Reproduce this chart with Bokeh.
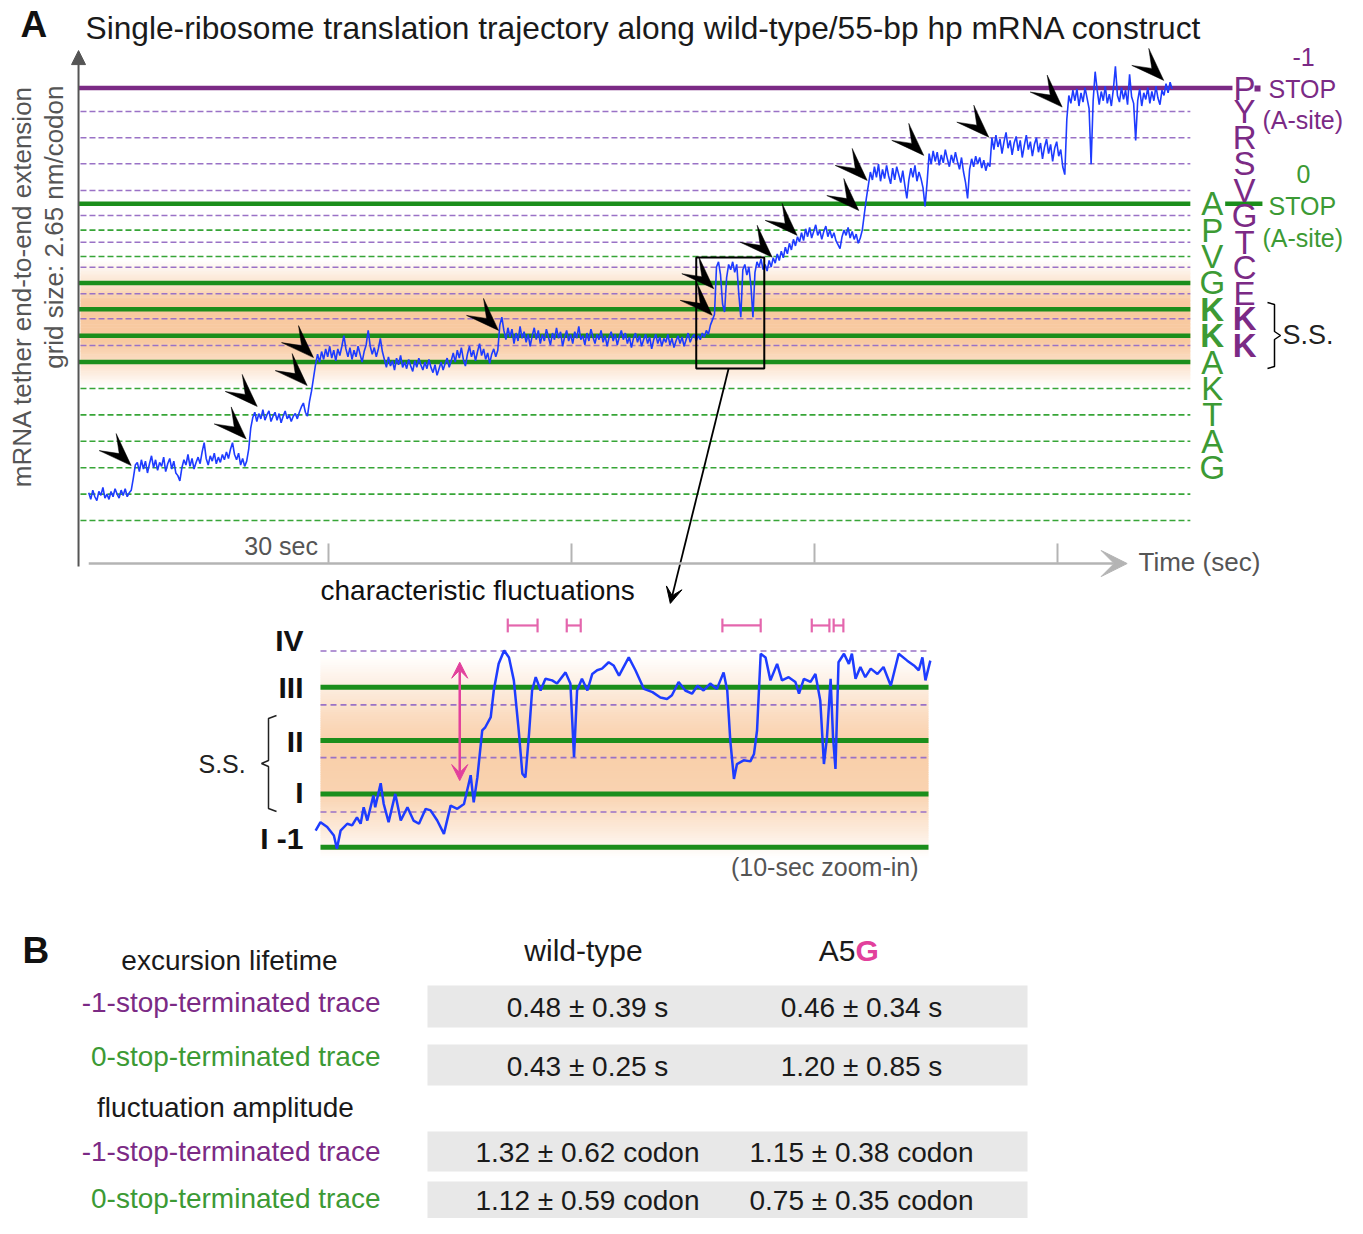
import numpy as np
from bokeh.plotting import figure
from bokeh.models import Range1d, Arrow, VeeHead, NormalHead
from bokeh.core.properties import value
from bokeh.embed import file_html
from bokeh.resources import INLINE

FONT = value("Liberation Sans")

# ---------------- Panel A data ----------------
# extension in codons (0-frame grid lines at integer codons), sampled every 0.25 s from t = 0.4 s
plateau_1 = [1.05, 0.80, 1.15, 0.90, 0.75, 1.10, 0.95, 1.25, 0.85, 1.00,
             0.80, 1.10, 0.90, 1.20, 1.00, 0.85, 1.15, 0.95, 1.20, 0.90,
             1.05, 1.15]
step_1 = [1.60, 2.10]
plateau_2 = [2.20, 1.85, 2.30, 1.95, 2.25, 1.80, 2.15, 2.45, 2.00, 2.30,
             1.90, 2.20, 2.05, 2.40, 1.85, 2.15, 2.35, 1.95, 2.25, 1.80,
             1.70, 1.50, 2.00, 2.30, 2.10, 2.50, 2.05, 2.35, 1.95, 2.20,
             2.40, 2.15, 2.60, 2.95, 2.35, 2.10, 2.45, 2.25, 2.55, 2.15,
             2.40, 2.20, 2.50, 2.30, 2.60, 2.35, 2.70, 2.95, 2.50, 2.30,
             2.55, 2.10, 2.35, 2.05, 2.25]
step_2 = [2.70, 3.50, 3.90]
plateau_3 = [4.10, 3.75, 4.05, 3.85, 4.20, 3.80, 4.00, 4.15, 3.75, 3.95,
             4.10, 3.80, 4.05, 3.70, 3.95, 4.15, 3.85, 4.00, 3.75, 3.95,
             4.05, 3.85, 4.10, 4.30, 4.45, 4.10, 3.95]
step_3 = [4.50, 4.90, 5.40, 5.90, 6.30]
plateau_4 = [6.00, 6.40, 6.10, 6.50, 6.20, 6.60, 6.15, 6.45, 6.05, 6.50,
             6.25, 6.60, 7.00, 6.50, 6.20, 6.55, 6.10, 6.45, 6.20, 6.60,
             6.30, 6.00, 6.40, 6.65, 7.20, 6.60, 6.30, 6.55, 6.20, 6.50,
             6.90, 6.40,
             6.10, 5.80, 6.20, 5.85, 6.05, 5.70, 6.15, 5.90, 6.25, 5.80,
             6.00, 5.75, 6.10, 5.85, 5.65, 6.05, 5.80, 6.15, 5.90, 5.70,
             6.00, 5.75, 6.10, 5.80, 5.60, 5.90, 5.50, 5.75, 6.00, 5.70,
             5.95, 6.15, 5.80, 6.05,
             6.35, 6.00, 6.45, 6.15, 6.55, 6.10, 5.85, 6.30, 6.60, 6.20,
             6.45, 6.05, 6.40, 6.70, 6.25, 6.50, 6.10, 6.35, 5.95, 6.30,
             6.50, 6.20, 6.45]
step_4 = [7.40, 7.70]
plateau_5 = [7.20, 6.85, 7.30, 6.95, 7.25, 6.70, 7.10, 6.80, 7.35, 6.90,
             7.15, 6.75, 7.05, 6.60, 7.00, 7.30, 6.85, 7.20, 6.70, 7.05,
             6.80, 7.25, 6.95, 6.65, 7.10, 6.85, 7.30, 6.90, 7.15, 6.60,
             6.95, 7.20, 6.80, 7.05, 6.70, 7.15, 6.90, 7.35, 6.85, 7.00,
             6.65, 7.10, 6.80, 7.25, 6.95, 6.70, 7.05, 6.85, 7.20, 6.75,
             7.00, 6.60, 6.95, 7.15, 6.80, 7.05, 6.65, 6.95, 7.20, 6.85,
             7.10, 6.70, 6.95, 6.55, 6.90, 7.10, 6.75, 7.00, 6.60, 6.85,
             7.05, 6.70, 6.95, 6.50, 6.85, 7.05, 6.70, 6.95, 6.60, 6.90,
             6.75, 7.05, 6.65, 6.90, 6.55, 6.80, 7.00, 6.70, 6.95, 6.60,
             6.85, 7.10, 6.75, 6.95, 7.05, 6.80, 7.00, 6.85, 7.10, 6.95,
             7.20, 7.05, 7.40, 7.60]
fluctuations = [7.80, 9.60, 9.80, 9.30, 8.20, 7.90, 9.20, 9.70, 9.50, 9.80,
                9.40, 9.70, 8.60, 7.70, 9.50, 9.70, 9.30, 9.60, 8.90, 7.70,
                9.40, 9.80, 9.60, 9.90, 9.50]
rise_6 = [9.70, 9.45, 9.85, 9.60, 9.95, 9.75, 10.10, 9.85, 10.20, 9.95,
          10.35, 10.10, 10.50, 10.25, 10.65, 10.40, 10.75, 10.55]
plateau_7 = [10.90, 10.60, 11.05, 10.75, 11.10, 10.70, 10.95, 11.20, 10.80, 11.00,
             10.65, 10.95, 11.15, 10.75, 11.00, 10.70, 10.90, 10.60, 10.45, 10.30,
             10.75, 11.00, 10.80, 11.10, 10.70, 10.95, 10.65, 10.85, 10.50, 10.70]
step_7 = [11.00, 11.60, 12.20, 12.70, 13.20]
plateau_8 = [12.90, 13.40, 13.00, 13.50, 12.85, 13.30, 12.95, 13.45, 13.05, 12.75,
             13.35, 12.90, 13.40, 13.10, 12.80, 13.25, 12.70, 12.20, 12.90, 13.35,
             13.00, 13.45, 12.85, 13.20, 12.95, 12.60, 11.90, 12.80]
plateau_9 = [13.90, 13.50, 14.00, 13.60, 13.95, 13.45, 13.85, 13.55, 14.05, 13.70,
             13.40, 13.85, 13.55, 13.95, 13.60, 13.30, 13.75, 13.20, 12.80, 12.20,
             13.30, 13.70, 13.40, 13.80, 13.50, 13.75, 13.35, 13.65, 13.25, 13.55,
             13.40]
plateau_10 = [14.50, 14.05, 14.60, 14.15, 14.45, 13.90, 14.35, 14.70, 14.10, 14.40,
              13.85, 14.30, 14.55, 14.00, 14.40, 13.75, 14.20, 14.60, 14.05, 14.35,
              13.80, 14.25, 14.50, 13.95, 14.30, 13.70, 14.15, 14.45, 13.90, 14.25,
              13.60, 14.10, 14.35, 13.80, 14.05, 13.40, 13.10]
step_10 = [15.20, 16.10]
plateau_11 = [15.80, 16.30, 15.90, 16.35, 15.70, 16.20, 15.85, 16.40, 16.00, 15.60,
              13.50, 15.90, 17.00, 16.30, 15.75, 16.25, 15.90, 16.45, 15.80, 16.15,
              15.70, 16.35, 17.20, 16.10, 15.85, 16.40, 15.95, 16.30, 15.75, 16.90,
              16.05, 15.80, 14.40, 15.90, 16.35, 15.70, 16.20, 15.95, 16.40, 15.80,
              16.25, 15.90, 16.45, 16.00, 15.75, 16.30, 16.10, 16.55, 16.20, 16.60,
              16.35]
trace_ext = (plateau_1 + step_1 + plateau_2 + step_2 + plateau_3 + step_3 + plateau_4 + step_4
             + plateau_5 + fluctuations + rise_6 + plateau_7 + step_7 + plateau_8 + plateau_9
             + plateau_10 + step_10 + plateau_11)
sample_start, sample_interval = 0.4, 0.25
trace_t = [round(sample_start + sample_interval * i, 3) for i in range(len(trace_ext))]

frame0_thick = [6, 7, 8, 9, 12]
frame0_dashed = [0, 1, 2, 3, 4, 5, 10, 11]
frame_m1_stop = 16.38
frame_m1_dashed = [15.49, 14.50, 13.51, 12.50, 11.55, 10.54, 9.59, 8.59, 7.64, 6.63]
frame0_codons = ["A", "P", "V", "G", "K", "K", "A", "K", "T", "A", "G"]
frame0_codon_levels = [12, 11, 10, 9, 8, 7, 6, 5, 4, 3, 2]
frame0_codon_bold = [False, False, False, False, True, True, False, False, False, False, False]
frame_m1_codons = ["P", "Y", "R", "S", "V", "G", "T", "C", "E", "K", "K"]
frame_m1_codon_levels = [16.38] + frame_m1_dashed
frame_m1_codon_bold = [False] * 9 + [True, True]
time_ticks = [30, 60, 90, 120]
step_t = [5.64, 19.84, 21.20, 27.37, 28.15, 50.99, 77.37, 77.57, 84.78, 87.86,
          95.47, 96.51, 103.49, 111.52, 120.58, 133.12]
step_c = [2.08, 3.09, 4.32, 5.11, 6.17, 7.20, 7.77, 8.78, 9.97, 10.80,
          11.74, 12.88, 13.83, 14.52, 15.66, 16.67]
zoom_box_t = [75.4, 83.8]
zoom_box_c = [5.76, 9.96]

# ---------------- zoom-in data (10 s window) ----------------
zoom_t = [-0.08, 0.00, 0.11, 0.22, 0.27, 0.33, 0.44, 0.52, 0.60, 0.66,
          0.71, 0.77, 0.87, 0.90, 0.99, 1.04, 1.12, 1.23, 1.32, 1.43,
          1.53, 1.62, 1.73, 1.81, 1.92, 2.03, 2.14, 2.25, 2.36, 2.47,
          2.52, 2.58, 2.66, 2.71, 2.80, 2.85, 2.93, 3.02, 3.10, 3.18,
          3.26, 3.32, 3.37, 3.43, 3.48, 3.54, 3.62, 3.70, 3.81, 3.89,
          4.03, 4.11, 4.17, 4.22, 4.30, 4.39, 4.47, 4.55, 4.63, 4.74,
          4.82, 4.91, 5.07, 5.18, 5.32, 5.46, 5.59, 5.70, 5.78, 5.89,
          6.00, 6.11, 6.20, 6.30, 6.41, 6.52, 6.63, 6.69, 6.74, 6.80,
          6.85, 6.96, 7.07, 7.13, 7.18, 7.24, 7.32, 7.40, 7.51, 7.59,
          7.70, 7.81, 7.87, 7.95, 8.06, 8.14, 8.22, 8.28, 8.33, 8.39,
          8.43, 8.47, 8.52, 8.61, 8.69, 8.74, 8.80, 8.88, 8.96, 9.05,
          9.16, 9.26, 9.38, 9.51, 9.65, 9.76, 9.84, 9.90, 9.95, 10.03]
zoom_c = [0.31, 0.47, 0.38, 0.22, -0.03, 0.31, 0.44, 0.41, 0.56, 0.44,
          0.75, 0.50, 0.97, 0.75, 1.20, 0.81, 0.47, 1.00, 0.50, 0.75,
          0.50, 0.44, 0.72, 0.69, 0.50, 0.25, 0.78, 0.72, 0.81, 1.35,
          0.84, 1.31, 2.19, 2.25, 2.44, 2.94, 3.44, 3.69, 3.56, 3.13,
          2.19, 1.38, 1.31, 2.13, 2.94, 3.19, 2.94, 3.16, 3.13, 3.07,
          3.28, 3.07, 1.69, 2.94, 3.16, 2.94, 3.25, 3.32, 3.35, 3.47,
          3.41, 3.22, 3.56, 3.32, 2.97, 2.91, 2.81, 2.78, 2.85, 3.10,
          2.94, 2.88, 3.03, 2.94, 3.07, 2.97, 3.28, 2.94, 2.00, 1.28,
          1.56, 1.63, 1.61, 1.75, 2.19, 3.63, 3.56, 3.13, 3.44, 3.13,
          3.19, 3.10, 2.88, 3.16, 3.10, 3.25, 2.75, 1.56, 2.06, 3.16,
          2.06, 1.47, 3.47, 3.63, 3.44, 3.63, 3.16, 3.38, 3.19, 3.35,
          3.25, 3.38, 3.03, 3.63, 3.50, 3.41, 3.32, 3.56, 3.13, 3.50]
zoom_green = [0, 1, 2, 3]
zoom_purple = [0.66, 1.68, 2.67, 3.68]
zoom_names = ["I -1", "I", "II", "III", "IV"]
zoom_name_c = [0.16, 1.02, 1.98, 2.99, 3.88]
excursion_start = [3.08, 4.05, 6.61, 8.08, 8.44]
excursion_end = [3.57, 4.28, 7.24, 8.37, 8.60]
amp_t, amp_low, amp_high = 2.29, 1.25, 3.47

# ---------------- Panel B data ----------------
row_labels = ["excursion lifetime", "-1-stop-terminated trace", "0-stop-terminated trace",
              "fluctuation amplitude", "-1-stop-terminated trace", "0-stop-terminated trace"]
col_names = ["wild-type", "A5G"]
wt_mean = [0.48, 0.43, 1.32, 1.12]
wt_sd = [0.39, 0.25, 0.62, 0.59]
a5g_mean = [0.46, 1.20, 1.15, 0.75]
a5g_sd = [0.34, 0.85, 0.38, 0.35]
units = ["s", "s", "codon", "codon"]

# ---------------- colours ----------------
PURPLE = "#7b2a85"
PURPLE_D = "#9a72c6"
GREEN = "#1b8e1b"
GREEN_D = "#37a537"
GREEN_T = "#3c9a34"
BLUE = "#1e3cff"
PINK = "#e2409c"
PINK_L = "#e466ad"
GRAY = "#555555"
LGRAY = "#b4b4b4"

# ---------------- figure / scales (page coordinates = reference pixels) ----------------
W, H = 1347, 1218
p = figure(width=W, height=H, output_backend="svg", toolbar_location=None,
           x_range=Range1d(0, W), y_range=Range1d(H, 0),
           x_axis_location=None, y_axis_location=None, min_border=0)
p.grid.visible = False
p.outline_line_color = None
p.background_fill_color = "white"
p.border_fill_color = "white"

# panel A scale: time (s) / extension (codon)
T_PX0, PX_PER_S = 85.0, 8.1
C_PX0, PX_PER_C = 520.0, 26.4
p.extra_x_ranges["t"] = Range1d((0 - T_PX0) / PX_PER_S, (W - T_PX0) / PX_PER_S)
p.extra_y_ranges["c"] = Range1d((C_PX0 - H) / PX_PER_C, C_PX0 / PX_PER_C)
# zoom-in scale
ZT_PX0, PX_PER_ZS = 320.0, 60.8
ZC_PX0, PX_PER_ZC = 846.7, 53.3
p.extra_x_ranges["zt"] = Range1d((0 - ZT_PX0) / PX_PER_ZS, (W - ZT_PX0) / PX_PER_ZS)
p.extra_y_ranges["zc"] = Range1d((ZC_PX0 - H) / PX_PER_ZC, ZC_PX0 / PX_PER_ZC)
A = dict(x_range_name="t", y_range_name="c")
Z = dict(x_range_name="zt", y_range_name="zc")


def blend(rgb, a):
    r, g, b = (int(round(255 + (ch - 255) * a)) for ch in rgb)
    return "#%02x%02x%02x" % (r, g, b)


def band(x0, x1, prof_y, prof_a, rgb, names, n=90):
    edges = np.linspace(prof_y[0], prof_y[-1], n + 1)
    mids = 0.5 * (edges[:-1] + edges[1:])
    a = np.interp(mids, prof_y, prof_a)
    step = edges[1] - edges[0]
    cols = [blend(rgb, ai) for ai in a]
    p.quad(left=x0, right=x1, bottom=edges[:-1] - 0.2 * step, top=edges[1:] + 0.2 * step,
           fill_color=cols, line_color=None, **names)


# ---------------- Panel A ----------------
GRID_X0, GRID_X1 = -0.62, 136.4
band(GRID_X0, GRID_X1, [5.05, 6.0, 6.8, 8.3, 9.0, 9.9], [0, 0.6, 1.0, 1.0, 0.5, 0],
     (248, 201, 160), A)

p.segment(x0=GRID_X0, x1=GRID_X1, y0=frame_m1_dashed, y1=frame_m1_dashed,
          line_color=PURPLE_D, line_width=1.5, line_dash="6 3", **A)
p.segment(x0=GRID_X0, x1=GRID_X1, y0=frame0_dashed, y1=frame0_dashed,
          line_color=GREEN_D, line_width=1.6, line_dash="6 3", **A)
p.segment(x0=-0.86, x1=GRID_X1, y0=frame0_thick, y1=frame0_thick,
          line_color=GREEN, line_width=4.5, **A)
p.segment(x0=[140.7], x1=[145.3], y0=[12], y1=[12], line_color=GREEN, line_width=4.5, **A)
p.segment(x0=[-0.86], x1=[141.6], y0=[frame_m1_stop], y1=[frame_m1_stop],
          line_color=PURPLE, line_width=4.5, **A)

p.line(trace_t, trace_ext, line_color=BLUE, line_width=1.6, **A)

# step arrowheads (shape offsets in screen pixels)
wing = [(0, 0), (-15, -32), (-12, -12), (-32, -15)]
xs = [[t + dx / PX_PER_S for dx, dy in wing] for t in step_t]
ys = [[c - dy / PX_PER_C for dx, dy in wing] for c in step_c]
p.patches(xs, ys, fill_color="black", line_color="black", line_width=0.5, **A)

# zoom box
p.quad(left=[zoom_box_t[0]], right=[zoom_box_t[1]], bottom=[zoom_box_c[0]], top=[zoom_box_c[1]],
       fill_alpha=0, line_color="black", line_width=2, **A)
p.add_layout(Arrow(end=VeeHead(size=16, fill_color="black", line_color="black"),
                   x_start=79.4, y_start=zoom_box_c[0], x_end=72.2, y_end=-3.14,
                   line_color="black", line_width=1.8, **A))

# axes
p.add_layout(Arrow(end=NormalHead(size=14, fill_color=GRAY, line_color=GRAY),
                   x_start=-0.86, y_start=-1.74, x_end=-0.86, y_end=17.8,
                   line_color=GRAY, line_width=2, **A))
p.add_layout(Arrow(end=VeeHead(size=26, fill_color=LGRAY, line_color=LGRAY),
                   x_start=0.4, y_start=-1.63, x_end=128.6, y_end=-1.63,
                   line_color=LGRAY, line_width=2.5, **A))
p.segment(x0=time_ticks, x1=time_ticks, y0=-0.87, y1=-1.6, line_color=LGRAY, line_width=2, **A)
p.text(x=[time_ticks[0] - 1.3], y=[-0.95], text=["%d sec" % time_ticks[0]], text_font=FONT,
       text_font_size="25px", text_color=GRAY, text_align="right", text_baseline="middle", **A)
p.text(x=[1138], y=[561], text=["Time (sec)"], text_font=FONT, text_font_size="26px",
       text_color=GRAY, text_align="left", text_baseline="middle")

# codon letters
p.text(x=139.1, y=frame0_codon_levels, text=frame0_codons, text_font=FONT, text_font_size="33px",
       text_font_style=["bold" if b else "normal" for b in frame0_codon_bold],
       text_color=GREEN_T, text_align="center", text_baseline="middle", **A)
p.text(x=143.1, y=frame_m1_codon_levels, text=frame_m1_codons, text_font=FONT, text_font_size="33px",
       text_font_style=["bold" if b else "normal" for b in frame_m1_codon_bold],
       text_color=PURPLE, text_align="center", text_baseline="middle", **A)
p.rect(x=[1257], y=[88], width=6, height=6, fill_color=PURPLE, line_color=None)

# right side annotations
p.text(x=[1303, 1268, 1262], y=[56, 88, 119], text=["-1", "STOP", "(A-site)"], text_font=FONT,
       text_font_size="25px", text_color=PURPLE, text_align=["center", "left", "left"],
       text_baseline="middle")
p.text(x=[1303, 1268, 1262], y=[173, 205, 237], text=["0", "STOP", "(A-site)"], text_font=FONT,
       text_font_size="25px", text_color=GREEN_T, text_align=["center", "left", "left"],
       text_baseline="middle")
p.line(x=[1267, 1274, 1274, 1280, 1274, 1274, 1267], y=[302, 304, 331, 335, 339, 366, 368],
       line_color="black", line_width=1.5)
p.text(x=[1282], y=[334], text=["S.S."], text_font=FONT, text_font_size="27px",
       text_color="#222222", text_align="left", text_baseline="middle")

# titles and y label
p.text(x=[20], y=[24], text=["A"], text_font=FONT, text_font_size="37px", text_font_style="bold",
       text_color="#111111", text_align="left", text_baseline="middle")
p.text(x=[85], y=[27], text=["Single-ribosome translation trajectory along wild-type/55-bp hp mRNA construct"],
       text_font=FONT, text_font_size="31.7px", text_color="#1a1a1a", text_align="left",
       text_baseline="middle")
p.text(x=[21, 53], y=[85, 85], text=["mRNA tether end-to-end extension", "grid size: 2.65 nm/codon"],
       angle=np.pi / 2, text_font=FONT, text_font_size="26px", text_color=GRAY,
       text_align="right", text_baseline="middle")

# ---------------- zoom-in ----------------
band(0, 10, [-0.2, 0.3, 1.0, 1.9, 2.5, 3.1, 3.6], [0, 0.4, 0.9, 1.0, 0.7, 0.3, 0],
     (249, 206, 168), Z)
p.segment(x0=0, x1=10, y0=zoom_purple, y1=zoom_purple, line_color=PURPLE_D, line_width=1.6,
          line_dash="6 4", **Z)
p.segment(x0=0, x1=10, y0=zoom_green, y1=zoom_green, line_color=GREEN, line_width=5, **Z)
p.line(zoom_t, zoom_c, line_color=BLUE, line_width=2.5, **Z)
p.text(x=-0.28, y=zoom_name_c, text=zoom_names, text_font=FONT, text_font_size="30px",
       text_font_style="bold", text_color="#111111", text_align="right", text_baseline="middle", **Z)
p.add_layout(Arrow(start=VeeHead(size=16, fill_color=PINK, line_color=PINK),
                   end=VeeHead(size=16, fill_color=PINK, line_color=PINK),
                   x_start=amp_t, y_start=amp_low, x_end=amp_t, y_end=amp_high,
                   line_color=PINK, line_width=2.5, **Z))
EXC_Y = 4.16
p.segment(x0=excursion_start, x1=excursion_end, y0=EXC_Y, y1=EXC_Y, line_color=PINK_L,
          line_width=2.2, **Z)
ends = excursion_start + excursion_end
p.segment(x0=ends, x1=ends, y0=EXC_Y - 0.13, y1=EXC_Y + 0.13, line_color=PINK_L,
          line_width=2.2, **Z)
p.line(x=[276, 268, 268, 261, 268, 268, 276], y=[715, 718, 760, 763, 766, 808, 811],
       line_color="#222222", line_width=1.5)
p.text(x=[198], y=[763], text=["S.S."], text_font=FONT, text_font_size="25px",
       text_color="#222222", text_align="left", text_baseline="middle")
p.text(x=[320], y=[590], text=["characteristic fluctuations"], text_font=FONT,
       text_font_size="28px", text_color="#111111", text_align="left", text_baseline="middle")
p.text(x=[918], y=[866], text=["(10-sec zoom-in)"], text_font=FONT, text_font_size="25px",
       text_color=GRAY, text_align="right", text_baseline="middle")

# ---------------- Panel B (rows slightly compressed to fit the page) ----------------
box_top = [985, 1044, 1131, 1181]
box_bot = [1027, 1085, 1171, 1222]
p.quad(left=427, right=1027, top=box_top, bottom=box_bot, fill_color="#e8e8e8", line_color=None)
p.text(x=[22], y=[950], text=["B"], text_font=FONT, text_font_size="37px", text_font_style="bold",
       text_color="#111111", text_align="left", text_baseline="middle")
label_x = [229, 380, 380, 225, 380, 380]
label_y = [960, 1002, 1056, 1107, 1151, 1198]
label_col = ["#1a1a1a", PURPLE, GREEN_T, "#1a1a1a", PURPLE, GREEN_T]
label_align = ["center", "right", "right", "center", "right", "right"]
p.text(x=label_x, y=label_y, text=row_labels, text_font=FONT, text_font_size="28px",
       text_color=label_col, text_align=label_align, text_baseline="middle")
p.text(x=[583], y=[950], text=[col_names[0]], text_font=FONT, text_font_size="30px",
       text_color="#1a1a1a", text_align="center", text_baseline="middle")
p.text(x=[855], y=[950], text=[col_names[1][:2]], text_font=FONT, text_font_size="30px",
       text_color="#1a1a1a", text_align="right", text_baseline="middle")
p.text(x=[855], y=[950], text=[col_names[1][2:]], text_font=FONT, text_font_size="30px",
       text_font_style="bold", text_color=PINK, text_align="left", text_baseline="middle")
val_y = [1007, 1066, 1152, 1200]
wt_txt = ["%.2f ± %.2f %s" % (m, s, u) for m, s, u in zip(wt_mean, wt_sd, units)]
a5g_txt = ["%.2f ± %.2f %s" % (m, s, u) for m, s, u in zip(a5g_mean, a5g_sd, units)]
p.text(x=587, y=val_y, text=wt_txt, text_font=FONT, text_font_size="28px", text_color="#1a1a1a",
       text_align="center", text_baseline="middle")
p.text(x=861, y=val_y, text=a5g_txt, text_font=FONT, text_font_size="28px", text_color="#1a1a1a",
       text_align="center", text_baseline="middle")

open("out.html", "w").write(file_html(p, INLINE))
